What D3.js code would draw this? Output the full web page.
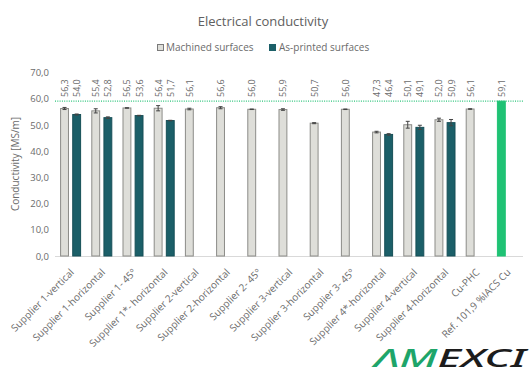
<!DOCTYPE html>
<html>
<head>
<meta charset="utf-8">
<script src="https://cdn.jsdelivr.net/npm/d3@7"></script>
<style>
  html, body { margin: 0; padding: 0; background: #fff; }
  svg { display: block; font-family: "Open Sans", "Noto Sans", sans-serif; }
</style>
</head>
<body>
<svg id="chart" width="529" height="374"></svg>
<script>
// Electrical conductivity per supplier / build orientation
const categories = [
  "Supplier 1-vertical", "Supplier 1-horizontal", "Supplier 1- 45º",
  "Supplier 1*- horizontal", "Supplier 2-vertical", "Supplier 2-horizontal",
  "Supplier 2- 45º", "Supplier 3-vertical", "Supplier 3-horizontal",
  "Supplier 3- 45º", "Supplier 4*-horizontal", "Supplier 4-vertical",
  "Supplier 4-horizontal", "Cu-PHC", "Ref. 101,9 %IACS Cu"
];
const machined = [56.3, 55.4, 56.5, 56.4, 56.1, 56.6, 56.0, 55.9, 50.7, 56.0, 47.3, 50.1, 52.0, 56.1, 59.1];
const machinedErr = [0.4, 0.8, 0.1, 1.0, 0.3, 0.4, 0.1, 0.3, 0.2, 0.1, 0.3, 1.3, 0.6, 0.1, 0];
const asPrinted = [54.0, 52.8, 53.6, 51.7, null, null, null, null, null, null, 46.4, 49.1, 50.9, null, null];
const asPrintedErr = [0.2, 0.3, 0.1, 0.1, null, null, null, null, null, null, 0.3, 0.8, 1.2, null, null];
const yTicks = [0, 10, 20, 30, 40, 50, 60, 70];
const referenceValue = 59.1;
const seriesNames = ["Machined surfaces", "As-printed surfaces"];

const colMachined = "#deded9", strokeMachined = "#8c8c88";
const colPrinted = "#1b5f68", strokePrinted = "#174f57";
const colRef = "#1fc274";
const textCol = "#6b6b6b";

const svg = d3.select("#chart");
const fmt = v => d3.format(".1f")(v).replace(".", ",");

const x = d3.scaleBand().domain(categories).range([55, 523]);
const sub = d3.scaleBand().domain(["m", "a"]).range([-10, 10]).paddingInner(0.35);
const y = d3.scaleLinear().domain([0, 70]).range([256, 72.6]);

// title
svg.append("text").attr("x", 263).attr("y", 26).attr("text-anchor", "middle")
  .attr("font-size", 13).attr("fill", "#606060").text("Electrical conductivity");

// legend
const lg = svg.append("g").attr("font-size", 10).attr("fill", textCol);
lg.append("rect").attr("x", 157.5).attr("y", 44.5).attr("width", 6).attr("height", 6)
  .attr("fill", colMachined).attr("stroke", "#7a7a7a");
lg.append("text").attr("x", 166).attr("y", 51).text(seriesNames[0]);
lg.append("rect").attr("x", 269).attr("y", 44).attr("width", 7).attr("height", 7)
  .attr("fill", colPrinted);
lg.append("text").attr("x", 279).attr("y", 51).text(seriesNames[1]);

// y axis
const yAxis = svg.append("g").attr("transform", "translate(49,0)")
  .call(d3.axisLeft(y).tickValues(yTicks).tickSize(0).tickFormat(fmt));
yAxis.select(".domain").remove();
yAxis.selectAll("text").attr("font-size", 9.5).attr("fill", textCol)
  .attr("font-family", "'Open Sans', sans-serif").attr("dx", 3);

svg.append("text").attr("transform", "translate(19,164) rotate(-90)")
  .attr("text-anchor", "middle").attr("font-size", 10).attr("fill", textCol)
  .text("Conductivity [MS/m]");

// baseline
svg.append("line").attr("x1", 55).attr("x2", 523).attr("y1", y(0) + 0.5).attr("y2", y(0) + 0.5)
  .attr("stroke", "#d9d9d9");

// reference line
svg.append("line").attr("x1", 55).attr("x2", 523)
  .attr("y1", y(referenceValue)).attr("y2", y(referenceValue))
  .attr("stroke", "#2bc47a").attr("stroke-width", 1.2).attr("stroke-dasharray", "1,1.3");

// bar records
const rows = categories.map((c, i) => ({
  c, i, m: machined[i], me: machinedErr[i], a: asPrinted[i], ae: asPrintedErr[i]
}));
const bw = sub.bandwidth();

const bars = svg.append("g");
rows.forEach(r => {
  const cx = x(r.c) + x.bandwidth() / 2;
  const isRef = r.i === categories.length - 1;
  const xm = cx + sub("m");
  bars.append("rect").attr("x", xm).attr("width", bw)
    .attr("y", y(r.m)).attr("height", y(0) - y(r.m))
    .attr("fill", isRef ? colRef : colMachined)
    .attr("stroke", isRef ? colRef : strokeMachined).attr("stroke-width", 1);
  if (r.a != null) {
    const xa = cx + sub("a");
    bars.append("rect").attr("x", xa).attr("width", bw)
      .attr("y", y(r.a)).attr("height", y(0) - y(r.a))
      .attr("fill", colPrinted).attr("stroke", strokePrinted).attr("stroke-width", 1);
  }
});

// error bars
const errs = svg.append("g").attr("stroke", "#444").attr("stroke-width", 1);
function errBar(xc, v, e) {
  if (!e) return;
  errs.append("line").attr("x1", xc).attr("x2", xc).attr("y1", y(v + e)).attr("y2", y(v - e));
  errs.append("line").attr("x1", xc - 2).attr("x2", xc + 2).attr("y1", y(v + e)).attr("y2", y(v + e));
  errs.append("line").attr("x1", xc - 2).attr("x2", xc + 2).attr("y1", y(v - e)).attr("y2", y(v - e));
}
rows.forEach(r => {
  const cx = x(r.c) + x.bandwidth() / 2;
  errBar(cx + sub("m") + bw / 2, r.m, r.me);
  if (r.a != null) errBar(cx + sub("a") + bw / 2, r.a, r.ae);
});

// value labels along the top
const lbl = svg.append("g").attr("font-size", 9).attr("fill", textCol);
rows.forEach(r => {
  const cx = x(r.c) + x.bandwidth() / 2;
  const put = (xc, v) => lbl.append("text")
    .attr("transform", `translate(${xc + 3.5},97) rotate(-90)`).text(fmt(v));
  put(cx + sub("m") + bw / 2, r.m);
  if (r.a != null) put(cx + sub("a") + bw / 2, r.a);
});

// category labels
const xl = svg.append("g").attr("font-size", 10).attr("fill", textCol);
categories.forEach(c => {
  const cx = x(c) + x.bandwidth() / 2;
  xl.append("text").attr("text-anchor", "end")
    .attr("transform", `translate(${cx + 4},273) rotate(-45)`).text(c);
});

// logo
const logo = svg.append("text").attr("x", 374).attr("y", 366.5)
  .attr("font-size", 25).attr("font-weight", 500).attr("font-style", "italic")
  .attr("font-family", "'Noto Sans', sans-serif")
  .attr("textLength", 152).attr("lengthAdjust", "spacingAndGlyphs");
logo.append("tspan").attr("fill", "#1ea56a").text("ΛM");
logo.append("tspan").attr("fill", "#1c1c1c").text("EXCI");
</script>
</body>
</html>
